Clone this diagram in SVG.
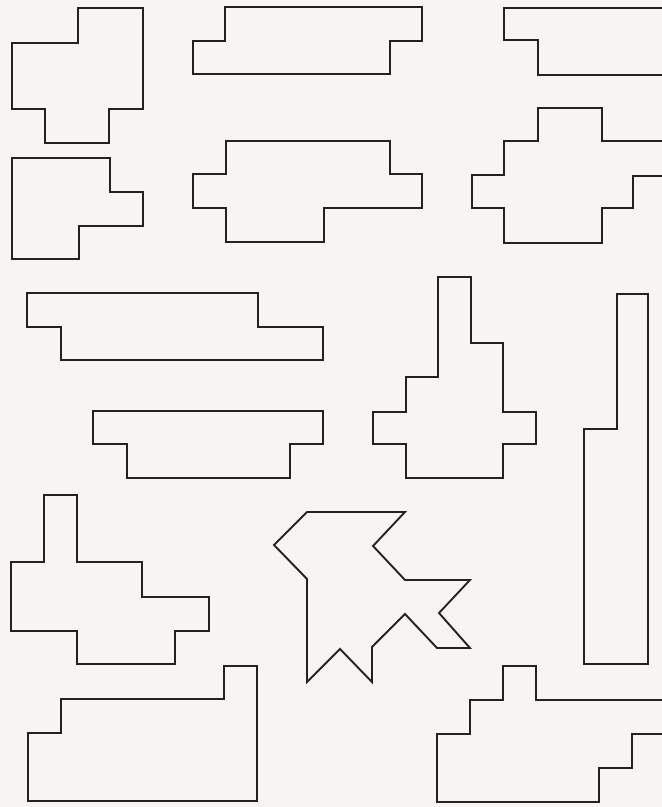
<svg xmlns="http://www.w3.org/2000/svg" width="662" height="807" viewBox="0 0 662 807">
<style>
.s{fill:none;stroke:#222;stroke-width:2;stroke-linejoin:miter}
</style>
<rect width="662" height="807" fill="#f6f5f1"/>
<g id="shape-a"><path class="s" d="M78,8 H143 V109 H109 V143 H45 V109 H12 V43 H78 Z"/></g>
<g id="shape-b"><path class="s" d="M12,158 H110 V192 H143 V226 H79 V259 H12 Z"/></g>
<g id="shape-c"><path class="s" d="M225,7 H422 V41 H390 V74 H193 V41 H225 Z"/></g>
<g id="shape-d"><path class="s" d="M226,141 H390 V174 H422 V208 H324 V242 H226 V208 H193 V174 H226 Z"/></g>
<g id="shape-e"><path class="s" d="M680,8 H504 V40 H538 V75 H680"/></g>
<g id="shape-f"><path class="s" d="M538,108 H602 V141 H680 V176 H633 V208 H602 V243 H504 V208 H472 V175 H504 V141 H538 Z"/></g>
<g id="shape-g"><path class="s" d="M27,293 H258 V327 H323 V360 H61 V327 H27 Z"/></g>
<g id="shape-h"><path class="s" d="M93,411 H323 V444 H290 V478 H127 V444 H93 Z"/></g>
<g id="shape-i"><path class="s" d="M438,277 H471 V343 H503 V412 H536 V444 H503 V478 H406 V444 H373 V412 H406 V377 H438 Z"/></g>
<g id="shape-j"><path class="s" d="M617,294 H648 V664 H584 V429 H617 Z"/></g>
<g id="shape-k"><path class="s" d="M44,495 H77 V562 H142 V597 H209 V631 H175 V664 H77 V631 H11 V562 H44 Z"/></g>
<g id="shape-l"><path class="s" d="M307,512 L405,512 L373,546 L405,580 L470,580 L439,613 L470,648 L437,648 L405,614 L372,647 L372,682 L340,649 L307,682 L307,579 L274,545 Z"/></g>
<g id="shape-m"><path class="s" d="M224,666 H257 V801 H28 V733 H61 V699 H224 Z"/></g>
<g id="shape-n"><path class="s" d="M503,666 H536 V700 H680 V734 H632 V768 H599 V802 H437 V734 H470 V700 H503 Z"/></g>
<g id="connectors"></g>
</svg>
